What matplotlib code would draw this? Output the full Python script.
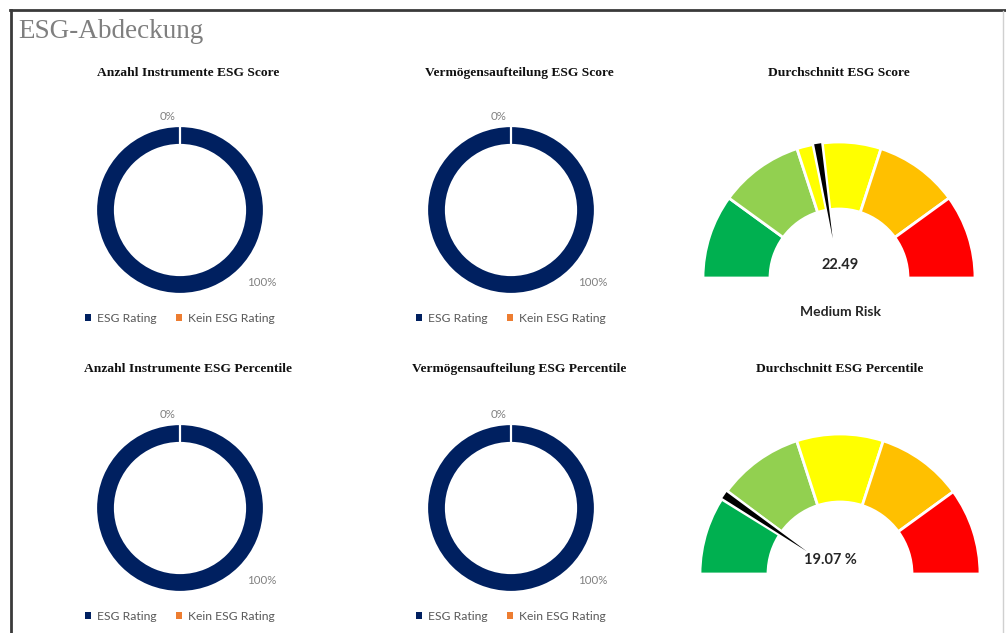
import numpy as np
import matplotlib
matplotlib.use("Agg")
import matplotlib.pyplot as plt
from matplotlib.patches import Polygon, Patch, Wedge
from matplotlib.lines import Line2D

# ---------------- data ----------------
page_title = "ESG-Abdeckung"
donut_titles = ["Anzahl Instrumente ESG Score", "Vermögensaufteilung ESG Score",
                "Anzahl Instrumente ESG Percentile", "Vermögensaufteilung ESG Percentile"]
donut_categories = ["ESG Rating", "Kein ESG Rating"]
donut_values = [[100, 0], [100, 0], [100, 0], [100, 0]]

gauge_titles = ["Durchschnitt ESG Score", "Durchschnitt ESG Percentile"]
score_bounds = [0, 10, 20, 30, 40, 50]
percentile_bounds = [0, 20, 40, 60, 80, 100]
score_value = 22.49
percentile_value = 19.07
score_label = "Medium Risk"

# ---------------- style ----------------
W, H = 1006, 633
NAVY = "#002060"
ORANGE = "#ED7D31"
GAUGE_COLORS = ["#00B050", "#92D050", "#FFFF00", "#FFC000", "#FF0000"]
SERIF = ["Liberation Serif", "DejaVu Serif"]
SANS = ["Lato", "DejaVu Sans"]

fig = plt.figure(figsize=(W / 100, H / 100), dpi=100)
fig.patch.set_facecolor("white")


def px_axes(cx, cy, half):
    ax = fig.add_axes([(cx - half) / W, 1 - (cy + half) / H, 2 * half / W, 2 * half / H])
    ax.axis("off")
    return ax


def fix_lims(ax, half):
    ax.set_xlim(-half, half)
    ax.set_ylim(-half, half)
    ax.set_aspect("auto")


def fig_text(x, y, s, **kw):
    fig.text(x / W, 1 - y / H, s, **kw)


# frame
fig.add_artist(Line2D([10 / W, 1], [1 - 10 / H, 1 - 10 / H], color="#3a3a3a", lw=2))
fig.add_artist(Line2D([11 / W, 11 / W], [0, 1 - 10 / H], color="#3a3a3a", lw=2))
fig.add_artist(Line2D([1003 / W, 1003 / W], [0, 1 - 11 / H], color="#d0d0d0", lw=1))

fig_text(18, 31, page_title, family=SERIF, fontsize=19.5, color="#7f7f7f", va="center", ha="left")

# ---------------- donuts ----------------
donut_pos = [(180, 210, 72, 318), (511, 210, 72, 318), (180, 508, 368, 616), (511, 508, 368, 616)]
for (cx, cy, ty, ly), title, vals in zip(donut_pos, donut_titles, donut_values):
    fig_text(cx + 8, ty + 1, title, family=SERIF, fontsize=9.7, fontweight="bold",
             color="#111111", ha="center", va="center")
    ax = px_axes(cx, cy, 100)
    ax.pie(vals, colors=[NAVY, ORANGE], radius=84, startangle=90,
           counterclock=False, wedgeprops=dict(width=19, edgecolor="white", linewidth=1.6))
    fix_lims(ax, 100)
    total = sum(vals)
    ax.text(-12, 94, f"{vals[1] / total:.0%}", family=SANS, fontsize=8.3, color="#808080",
            ha="center", va="center")
    ax.text(82, -72, f"{vals[0] / total:.0%}", family=SANS, fontsize=8.3, color="#808080",
            ha="center", va="center")
    handles = [Patch(facecolor=NAVY), Patch(facecolor=ORANGE)]
    fig.legend(handles, donut_categories, loc="center", bbox_to_anchor=((cx) / W, 1 - ly / H),
               ncol=2, frameon=False, prop=dict(family=SANS, size=8.7), labelcolor="#595959",
               handlelength=0.5, handleheight=0.5, handletextpad=0.5, columnspacing=1.6)

# ---------------- gauges ----------------
def gauge(cx, cy, R, r, bounds, value, title, ty, text, text_xy):
    fig_text(cx, ty + 1, title, family=SERIF, fontsize=9.7, fontweight="bold",
             color="#111111", ha="center", va="center")
    ax = px_axes(cx, cy, 160)
    seg = list(np.diff(bounds))
    span = bounds[-1] - bounds[0]
    wedges, _ = ax.pie(seg + [span], colors=GAUGE_COLORS + ["white"], radius=R, startangle=180,
                       counterclock=False, wedgeprops=dict(width=R - r, edgecolor="white", linewidth=2))
    wedges[-1].set_visible(False)
    fix_lims(ax, 160)
    theta_deg = 180 * (1 - (value - bounds[0]) / span)
    theta = np.deg2rad(theta_deg)
    # white gap in the ring around the needle
    ax.add_patch(Wedge((0, 0), R + 1, theta_deg - 2.6, theta_deg + 2.6, width=R - r + 2,
                       facecolor="white", edgecolor="none", zorder=4))
    d = np.deg2rad(1.5)
    rt = 40
    pts = [(R * np.cos(theta - d), R * np.sin(theta - d)),
           (R * np.cos(theta + d), R * np.sin(theta + d)),
           (rt * np.cos(theta), rt * np.sin(theta))]
    ax.add_patch(Polygon(pts, closed=True, facecolor="black", edgecolor="none", zorder=5))
    ax.text(text_xy[0], text_xy[1], text, family=SANS, fontsize=10.5, fontweight="bold",
            color="#262626", ha="center", va="center", zorder=6)
    return ax


gauge(839, 278, 136, 69, score_bounds, score_value, gauge_titles[0], 72,
      f"{score_value:.2f}", (1, 13))
fig_text(840, 312, score_label, family=SANS, fontsize=10, fontweight="bold",
         color="#262626", ha="center", va="center")
gauge(840, 574, 140, 72, percentile_bounds, percentile_value, gauge_titles[1], 368,
      f"{percentile_value:.2f} %", (-10, 14))

fig.savefig("out.png", dpi=100, facecolor="white")
